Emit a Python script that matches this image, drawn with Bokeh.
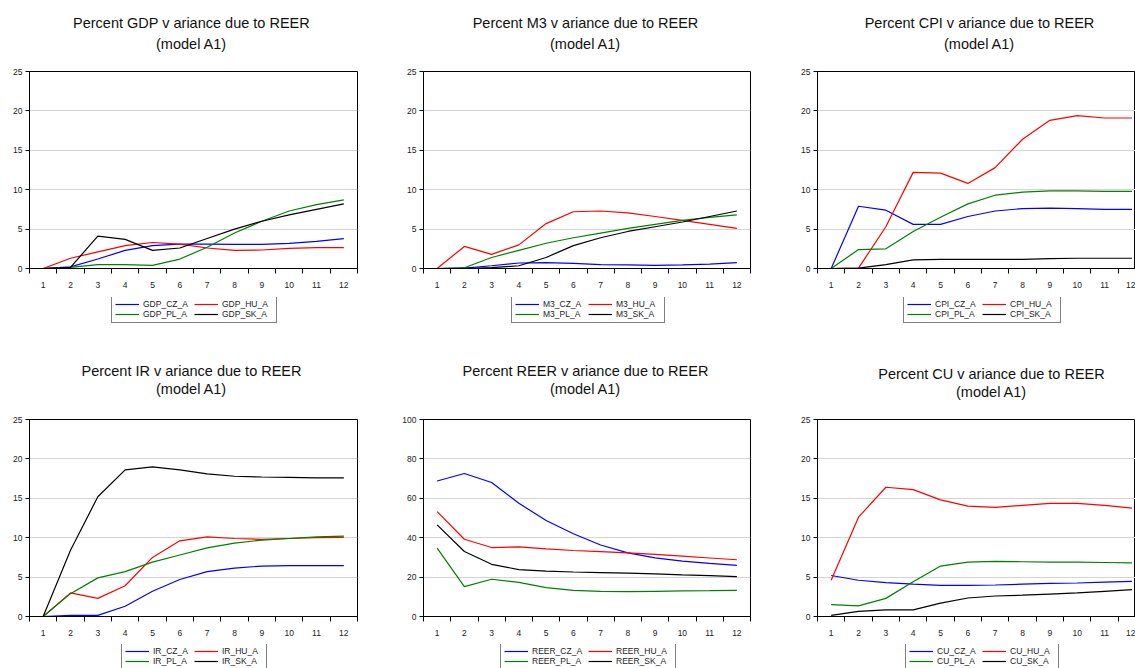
from bokeh.plotting import figure
from bokeh.layouts import column, row
from bokeh.models import Range1d, FixedTicker, Legend, LegendItem, Label
from bokeh.embed import file_html
from bokeh.resources import INLINE

# ---------------- data ----------------
horizons = list(range(1, 13))
countries = ["CZ", "HU", "PL", "SK"]
colors = ["#0000ff", "#ff0000", "#008000", "#000000"]

gdp_cz = [0.0, 0.2, 1.2, 2.3, 2.9, 3.1, 3.1, 3.05, 3.05, 3.2, 3.45, 3.8]
gdp_hu = [0.0, 1.3, 2.1, 2.9, 3.3, 3.1, 2.6, 2.3, 2.35, 2.55, 2.65, 2.65]
gdp_pl = [0.0, 0.15, 0.5, 0.5, 0.4, 1.2, 2.7, 4.5, 6.0, 7.3, 8.1, 8.7]
gdp_sk = [0.0, 0.15, 4.1, 3.7, 2.3, 2.6, 3.8, 5.0, 6.0, 6.8, 7.5, 8.2]

m3_cz = [0.0, 0.05, 0.35, 0.7, 0.75, 0.65, 0.5, 0.45, 0.4, 0.45, 0.55, 0.75]
m3_hu = [0.0, 2.8, 1.8, 3.0, 5.7, 7.2, 7.3, 7.05, 6.6, 6.1, 5.6, 5.1]
m3_pl = [0.0, 0.1, 1.4, 2.3, 3.2, 3.9, 4.5, 5.1, 5.6, 6.1, 6.5, 6.8]
m3_sk = [0.0, 0.0, 0.1, 0.35, 1.4, 2.9, 3.9, 4.7, 5.3, 5.9, 6.6, 7.3]

cpi_cz = [0.0, 7.9, 7.4, 5.6, 5.6, 6.6, 7.3, 7.6, 7.65, 7.6, 7.5, 7.5]
cpi_hu = [0.0, 0.05, 5.3, 12.2, 12.1, 10.8, 12.8, 16.4, 18.8, 19.4, 19.1, 19.1]
cpi_pl = [0.0, 2.4, 2.5, 4.7, 6.5, 8.2, 9.3, 9.7, 9.85, 9.85, 9.8, 9.8]
cpi_sk = [0.0, 0.05, 0.5, 1.1, 1.15, 1.15, 1.15, 1.15, 1.25, 1.3, 1.3, 1.3]

ir_cz = [0.0, 0.15, 0.15, 1.3, 3.2, 4.7, 5.7, 6.15, 6.4, 6.45, 6.45, 6.45]
ir_hu = [0.0, 3.0, 2.3, 3.9, 7.5, 9.6, 10.1, 9.9, 9.8, 9.9, 10.0, 10.05]
ir_pl = [0.0, 2.9, 4.9, 5.7, 6.9, 7.8, 8.7, 9.3, 9.7, 9.9, 10.1, 10.2]
ir_sk = [0.0, 8.4, 15.2, 18.6, 19.0, 18.6, 18.1, 17.8, 17.7, 17.65, 17.6, 17.6]

reer_cz = [68.8, 72.6, 68.0, 57.5, 48.7, 42.0, 36.3, 32.3, 29.8, 28.1, 27.0, 26.0]
reer_hu = [53.2, 39.2, 35.0, 35.3, 34.3, 33.5, 32.9, 32.3, 31.5, 30.6, 29.7, 28.8]
reer_pl = [34.7, 15.2, 18.9, 17.3, 14.7, 13.3, 12.8, 12.6, 12.8, 13.0, 13.1, 13.3]
reer_sk = [46.5, 33.0, 26.5, 23.8, 23.0, 22.6, 22.3, 22.0, 21.6, 21.1, 20.7, 20.2]

cu_cz = [5.2, 4.6, 4.3, 4.1, 3.95, 3.95, 4.0, 4.1, 4.2, 4.25, 4.35, 4.45]
cu_hu = [4.6, 12.6, 16.4, 16.1, 14.8, 14.0, 13.85, 14.1, 14.35, 14.35, 14.1, 13.75]
cu_pl = [1.5, 1.35, 2.3, 4.4, 6.4, 6.9, 7.0, 6.95, 6.9, 6.9, 6.85, 6.8]
cu_sk = [0.15, 0.65, 0.85, 0.85, 1.7, 2.35, 2.6, 2.7, 2.85, 3.0, 3.2, 3.4]

ticks_25 = [0, 5, 10, 15, 20, 25]
ticks_100 = [0, 20, 40, 60, 80, 100]

panels = [
    ("GDP", [gdp_cz, gdp_hu, gdp_pl, gdp_sk], ticks_25),
    ("M3", [m3_cz, m3_hu, m3_pl, m3_sk], ticks_25),
    ("CPI", [cpi_cz, cpi_hu, cpi_pl, cpi_sk], ticks_25),
    ("IR", [ir_cz, ir_hu, ir_pl, ir_sk], ticks_25),
    ("REER", [reer_cz, reer_hu, reer_pl, reer_sk], ticks_100),
    ("CU", [cu_cz, cu_hu, cu_pl, cu_sk], ticks_25),
]

# ---------------- layout geometry ----------------
FONT = "Liberation Sans"
NOMINAL_W = 328
PX_PER_UNIT = 27.34
col_geom = [  # (fig width, left border, right border)
    (390, 29, 33),
    (390, 33, 30),
    (355, 37, 0),
]
# (title strip h, plot top border, frame h, plot bottom border, legend strip h,
#  title line-1 y, title line-2 y  [measured up from strip bottom])
row_geom = [
    (64, 7, 197, 29, 43, 42.0, 21.0),
    (72, 7, 197, 28, 24, 41.5, 23.5),
]
title_dx = {"GDP": -2, "M3": -2, "CPI": -2, "IR": -2, "REER": -2, "CU": 10}
title_dy = {"GDP": 0, "M3": 0, "CPI": 0, "IR": 0, "REER": 0, "CU": -3}
label_widths = {"GDP": 51, "M3": 45, "CPI": 47, "IR": 41, "REER": 56, "CU": 45}
LEG_H = 26


def strip(fw, h):
    f = figure(width=fw, height=h, min_border=0, x_range=Range1d(0, fw),
               y_range=Range1d(0, h), x_axis_type=None, y_axis_type=None,
               output_backend="svg", toolbar_location=None, tools="")
    f.outline_line_color = None
    f.xgrid.visible = False
    f.ygrid.visible = False
    f.background_fill_color = "white"
    f.border_fill_color = "white"
    return f


def make_panel(idx, var, series, yticks):
    ci, ri = idx % 3, idx // 3
    fw, bl, br = col_geom[ci]
    th, bt, frh, bb, lh, b1, b2 = row_geom[ri]
    frame_w = fw - bl - br
    ymax = yticks[-1]
    xend = 0.5 + frame_w / PX_PER_UNIT if ci == 2 else 12.5

    # ---- title strip ----
    tf = strip(fw, th)
    cx = bl + NOMINAL_W / 2 + title_dx[var]
    dy = title_dy[var]
    for txt, base in ((f"Percent {var} v ariance due to REER", b1), ("(model A1)", b2)):
        tf.add_layout(Label(x=cx, y=base + dy, text=txt, text_align="center",
                            text_baseline="alphabetic", text_font=FONT,
                            text_font_size="14.5px", text_color="#111111"))

    # ---- plot ----
    p = figure(width=fw, height=bt + frh + bb, min_border_left=bl, min_border_right=br,
               min_border_top=bt, min_border_bottom=bb,
               x_range=Range1d(0.5, xend), y_range=Range1d(0, ymax),
               output_backend="svg", toolbar_location=None, tools="")
    p.outline_line_color = "black"
    p.outline_line_width = 1
    p.background_fill_color = "white"
    p.border_fill_color = "white"

    for s, c in zip(series, colors):
        p.line(horizons, s, line_color=c, line_width=1.2)

    xa = p.xaxis[0]
    xa.ticker = FixedTicker(ticks=horizons,
                            minor_ticks=[h - 0.5 for h in horizons] + [horizons[-1] + 0.5])
    xa.major_tick_line_color = None
    xa.major_tick_out = 0
    xa.major_tick_in = 0
    xa.minor_tick_line_color = "black"
    xa.minor_tick_out = 5
    xa.minor_tick_in = 0
    xa.major_label_standoff = 8
    xa.axis_line_color = "black"

    ya = p.yaxis[0]
    ya.ticker = FixedTicker(ticks=yticks)
    ya.major_tick_out = 4
    ya.major_tick_in = 0
    ya.minor_tick_line_color = None
    ya.major_label_standoff = 3
    ya.axis_line_color = "black"

    for ax in (xa, ya):
        ax.major_label_text_font = FONT
        ax.major_label_text_font_size = "8.5px"
        ax.major_label_text_color = "#222222"

    p.xgrid.visible = False
    p.ygrid.grid_line_color = "#d4d4d4"
    p.ygrid.grid_line_width = 1

    # ---- legend strip (proxy lines carry the series but lie outside the strip's view) ----
    lf = figure(width=fw, height=lh, min_border=0, x_range=Range1d(100, 101),
                y_range=Range1d(100, 101), x_axis_type=None, y_axis_type=None,
                output_backend="svg", toolbar_location=None, tools="")
    lf.outline_line_color = None
    lf.xgrid.visible = False
    lf.ygrid.visible = False
    lf.background_fill_color = "white"
    lf.border_fill_color = "white"
    proxies = [lf.line(horizons, s, line_color=c, line_width=1.2) for s, c in zip(series, colors)]

    lw = label_widths[var]
    pad, gw, ls = 3, 24, 4
    legend_w = 2 * pad + 2 * (gw + ls + lw)
    vx = bl + (NOMINAL_W - legend_w) / 2
    items = [LegendItem(label=f"{var}_{c}_A", renderers=[r])
             for c, r in zip(countries, proxies)]
    legend = Legend(items=items, location=(vx, lh - LEG_H), orientation="horizontal",
                    ncols=2, padding=pad, spacing=0, margin=0, glyph_width=gw,
                    glyph_height=10, label_height=10, label_width=lw, label_standoff=ls,
                    label_text_font=FONT, label_text_font_size="8.5px",
                    label_text_color="#222222",
                    border_line_color="black", border_line_width=1,
                    background_fill_color="white", background_fill_alpha=1.0)
    lf.add_layout(legend)
    return tf, p, lf


made = [make_panel(i, *panels[i]) for i in range(6)]
rows = []
for block in (made[0:3], made[3:6]):
    for k in range(3):
        rows.append(row(*[m[k] for m in block]))
layout = column(*rows)

open("out.html", "w").write(file_html(layout, INLINE))
